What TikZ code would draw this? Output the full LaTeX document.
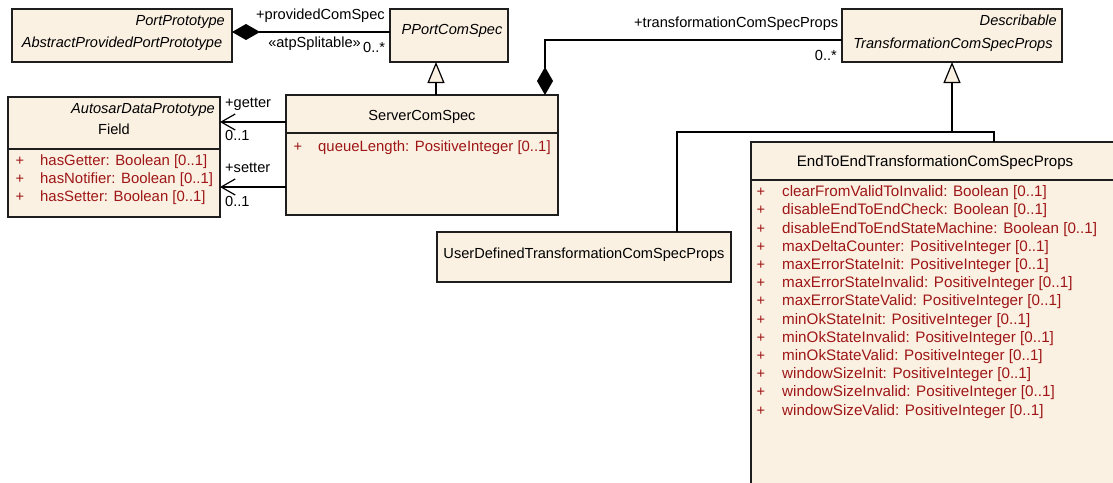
\documentclass[tikz,border=0pt]{standalone}
\usepackage{fontspec}
\setmainfont{Liberation Sans}
\usetikzlibrary{arrows.meta}
\definecolor{boxfill}{RGB}{251,241,227}
\definecolor{attrred}{RGB}{158,22,22}
\definecolor{edgecol}{RGB}{30,30,30}
\tikzset{
  cls/.style={draw=edgecol, fill=boxfill, line width=1.2pt, anchor=north west, inner sep=0pt, outer sep=0pt},
  divider/.style={draw=edgecol, line width=1.2pt},
  txt/.style={inner sep=0pt, font=\fontsize{14.6pt}{17pt}\selectfont, text height=10.5pt, text depth=3pt},
  bigtxt/.style={txt, font=\fontsize{15.1pt}{18pt}\selectfont},
  itxt/.style={txt, font=\fontsize{14.6pt}{17pt}\selectfont\itshape},
  attr/.style={txt, font=\fontsize{14.9pt}{18pt}\selectfont, text=attrred, anchor=west},
  plussign/.style={txt, text=attrred},
  conn/.style={draw=black, line width=1.2pt},
  comp/.style={conn, {Diamond[length=28pt,width=16pt]}-},
  gen/.style={conn, {Triangle[open,length=21pt,width=17pt,fill=boxfill]}-},
  nav/.style={conn, -{Straight Barb[length=14pt,width=16pt]}}
}
\begin{document}
\begin{tikzpicture}[x=1pt,y=-1pt]
\useasboundingbox (0,0) rectangle (1113,482);
\clip (0,0) rectangle (1113,482);
\fill[white] (0,0) rectangle (1113,482);

% ---------- boxes ----------
\node[cls, minimum width=220pt, minimum height=53pt] (app) at (12,9) {};
\node[itxt, anchor=east] (appst) at (225,22) {PortPrototype};
\node[itxt] (appname) at (122,44) {AbstractProvidedPortPrototype};

\node[cls, minimum width=118pt, minimum height=53pt] (pport) at (390,9) {};
\node[itxt] (pportname) at (452,31) {PPortComSpec};

\node[cls, minimum width=220pt, minimum height=53pt] (trans) at (842,9) {};
\node[itxt, anchor=east] (transst) at (1057,22) {Describable};
\node[itxt] (transname) at (953,45) {TransformationComSpecProps};

\node[cls, minimum width=212pt, minimum height=120pt] (field) at (8,97) {};
\node[itxt, anchor=east] (fieldst) at (215,110) {AutosarDataPrototype};
\node[txt] (fieldname) at (114,131) {Field};
\draw[divider] (8,149) -- (220,149);
\foreach \t [count=\i] in {hasGetter: Boolean [0..1], hasNotifier: Boolean [0..1], hasSetter: Boolean [0..1]} {
  \node[plussign] (fp\i) at (20,{162+18*(\i-1)}) {+};
  \node[attr] (fa\i) at (40,{162+18*(\i-1)}) {\t};
}

\node[cls, minimum width=272pt, minimum height=120pt] (scs) at (286,95) {};
\node[txt] (scsname) at (422,117) {ServerComSpec};
\draw[divider] (286,133) -- (558,133);
\node[plussign] (sp1) at (298,148) {+};
\node[attr] (sa1) at (318,148) {queueLength: PositiveInteger [0..1]};

\node[cls, minimum width=294pt, minimum height=50pt] (ud) at (437,232) {};
\node[txt] (udname) at (584,255) {UserDefinedTransformationComSpecProps};

\node[cls, minimum width=380pt, minimum height=360pt] (e2e) at (751,142) {};
\node[bigtxt] (e2ename) at (935,163) {EndToEndTransformationComSpecProps};
\draw[divider] (751,180) -- (1131,180);
\foreach \t [count=\i] in {
  clearFromValidToInvalid: Boolean [0..1],
  disableEndToEndCheck: Boolean [0..1],
  disableEndToEndStateMachine: Boolean [0..1],
  maxDeltaCounter: PositiveInteger [0..1],
  maxErrorStateInit: PositiveInteger [0..1],
  maxErrorStateInvalid: PositiveInteger [0..1],
  maxErrorStateValid: PositiveInteger [0..1],
  minOkStateInit: PositiveInteger [0..1],
  minOkStateInvalid: PositiveInteger [0..1],
  minOkStateValid: PositiveInteger [0..1],
  windowSizeInit: PositiveInteger [0..1],
  windowSizeInvalid: PositiveInteger [0..1],
  windowSizeValid: PositiveInteger [0..1]} {
  \node[plussign] (ep\i) at (761,{193+18.2*(\i-1)}) {+};
  \node[attr, font=\fontsize{15.2pt}{18pt}\selectfont] (ea\i) at (782,{193+18.2*(\i-1)}) {\t};
}

% ---------- connectors ----------
\draw[comp] ([yshift=3.5pt]app.east) -- ([yshift=3.5pt]pport.west);
\node[txt, anchor=east] (lprov) at (385,16) {+providedComSpec};
\node[txt, anchor=east] (latp) at (361,44) {«atpSplitable»};
\node[txt, anchor=west] (lprovm) at (363,49) {0..*};

\draw[gen] ([xshift=-13pt]pport.south) -- ([xshift=-13pt]pport.south |- scs.north);

\draw[comp] ([xshift=123pt]scs.north) |- ([yshift=-4.5pt]trans.west);
\node[txt, anchor=west] (ltcs) at (634,24) {+transformationComSpecProps};
\node[txt, anchor=east] (ltcsm) at (837,57) {0..*};

\draw[nav] ([yshift=33pt]scs.west) -- ([yshift=35pt]field.east);
\node[txt, anchor=west] (lget) at (225,104) {+getter};
\node[txt, anchor=west] (lgetm) at (225,137) {0..1};
\draw[nav] ([yshift=-32pt]scs.west) -- ([yshift=-30pt]field.east);
\node[txt, anchor=west] (lset) at (225,169) {+setter};
\node[txt, anchor=west] (lsetm) at (225,203) {0..1};

\coordinate (gj) at (952,132);
\draw[gen] (trans.south) -- (gj);
\draw[conn] (gj) -| ([xshift=243pt]e2e.north west);
\draw[conn] (gj) -| ([xshift=93pt]ud.north);
\end{tikzpicture}
\end{document}
